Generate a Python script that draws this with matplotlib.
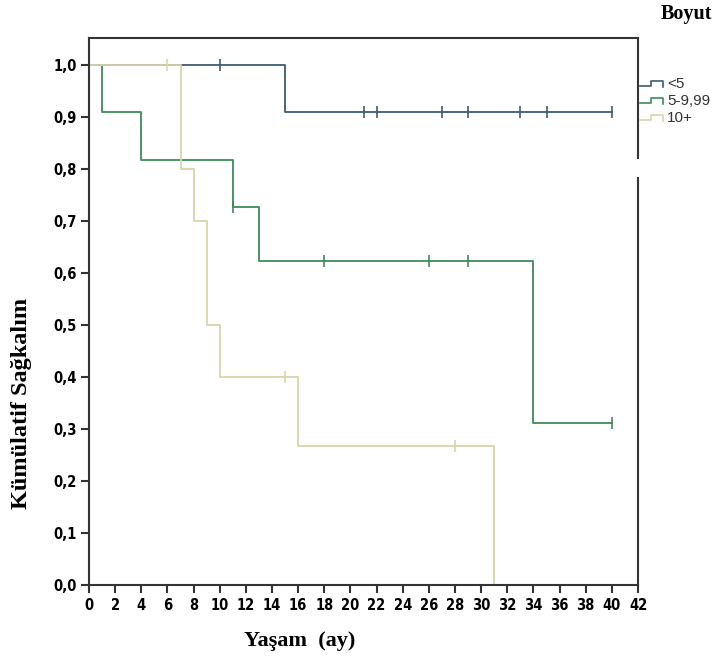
import matplotlib.pyplot as plt
from matplotlib.lines import Line2D

# Dados (Kaplan-Meier por tamanho)
grupos = ['<5', '5-9,99', '10+']
cores = ['#3e5b72', '#3f8a5c', '#d9d5a9']

tempos_5 = [0, 15, 40]
sobrev_5 = [1.0, 0.909, 0.909]
cens_t_5 = [10, 21, 22, 27, 29, 33, 35, 40]
cens_s_5 = [1.0, 0.909, 0.909, 0.909, 0.909, 0.909, 0.909, 0.909]

tempos_9 = [0, 1, 4, 11, 13, 34, 40]
sobrev_9 = [1.0, 0.909, 0.818, 0.727, 0.623, 0.312, 0.312]
cens_t_9 = [11, 18, 26, 29, 40]
cens_s_9 = [0.727, 0.623, 0.623, 0.623, 0.312]

tempos_10 = [0, 7, 8, 9, 10, 16, 31]
sobrev_10 = [1.0, 0.8, 0.7, 0.5, 0.4, 0.267, 0.0]
cens_t_10 = [6, 15, 28]
cens_s_10 = [1.0, 0.4, 0.267]

x_ticks = list(range(0, 43, 2))
y_ticks = [0.0, 0.1, 0.2, 0.3, 0.4, 0.5, 0.6, 0.7, 0.8, 0.9, 1.0]
y_labels = ['0,0', '0,1', '0,2', '0,3', '0,4', '0,5', '0,6', '0,7', '0,8', '0,9', '1,0']

fonte_serif = ['Liberation Serif', 'DejaVu Serif']

fig = plt.figure(figsize=(7.22, 6.62), dpi=100)
ax = fig.add_axes([89 / 722, 1 - 585 / 662, (638 - 89) / 722, (585 - 38) / 662])

curvas = [(tempos_5, sobrev_5, cens_t_5, cens_s_5),
          (tempos_9, sobrev_9, cens_t_9, cens_s_9),
          (tempos_10, sobrev_10, cens_t_10, cens_s_10)]
for (t, s, ct, cs), cor in zip(curvas, cores):
    ax.step(t, s, where='post', color=cor, lw=1.3)
    ax.plot(ct, cs, ls='none', marker='|', ms=8, mew=1.2, color=cor)

ax.set_xlim(0, 42)
ax.set_ylim(0, 1.052)
ax.set_xticks(x_ticks)
ax.set_xticklabels([str(v) for v in x_ticks], family='DejaVu Sans', stretch='condensed',
                   fontsize=10.5, fontweight='bold')
ax.set_yticks(y_ticks)
ax.set_yticklabels(y_labels, family='DejaVu Sans', stretch='condensed', fontsize=10.5, fontweight='bold')
ax.tick_params(direction='out', length=6, width=1.5, color='#333333', pad=3)

for lado in ['left', 'bottom', 'top']:
    ax.spines[lado].set_linewidth(1.5)
    ax.spines[lado].set_color('#333333')
ax.spines['right'].set_visible(False)
# borda direita com a pequena quebra junto da legenda
ax.plot([1, 1], [1, 1 - (158 - 38) / 547], transform=ax.transAxes, color='#333333', lw=1.5, clip_on=False)
ax.plot([1, 1], [1 - (178 - 38) / 547, 0], transform=ax.transAxes, color='#333333', lw=1.5, clip_on=False)

fig.text(22 / 722, 1 - 403 / 662, 'Kümülatif Sağkalım', rotation=90, ha='center', va='center',
         family=fonte_serif, fontsize=17.5, fontweight='bold')
fig.text(300 / 722, 1 - 641 / 662, 'Yaşam  (ay)', ha='center', va='center',
         family=fonte_serif, fontsize=16, fontweight='bold')
fig.text(686 / 722, 1 - 14 / 662, 'Boyut', ha='center', va='center',
         family=fonte_serif, fontsize=14.5, fontweight='bold')

# legenda com ícones em degrau
for i, (nome, cor) in enumerate(zip(grupos, cores)):
    yc = 86 + i * 17
    xs = [640 / 722, 651 / 722, 651 / 722, 663 / 722, 663 / 722]
    ys = [1 - yc / 662, 1 - yc / 662, 1 - (yc - 5) / 662, 1 - (yc - 5) / 662, 1 - (yc + 1) / 662]
    fig.add_artist(Line2D(xs, ys, color=cor, lw=1.2))
    fig.text(667 / 722, 1 - (yc - 2) / 662, nome, ha='left', va='center',
             family=['Liberation Sans', 'DejaVu Sans'], fontsize=11, color='#333333')

fig.savefig('out.png', dpi=100)
